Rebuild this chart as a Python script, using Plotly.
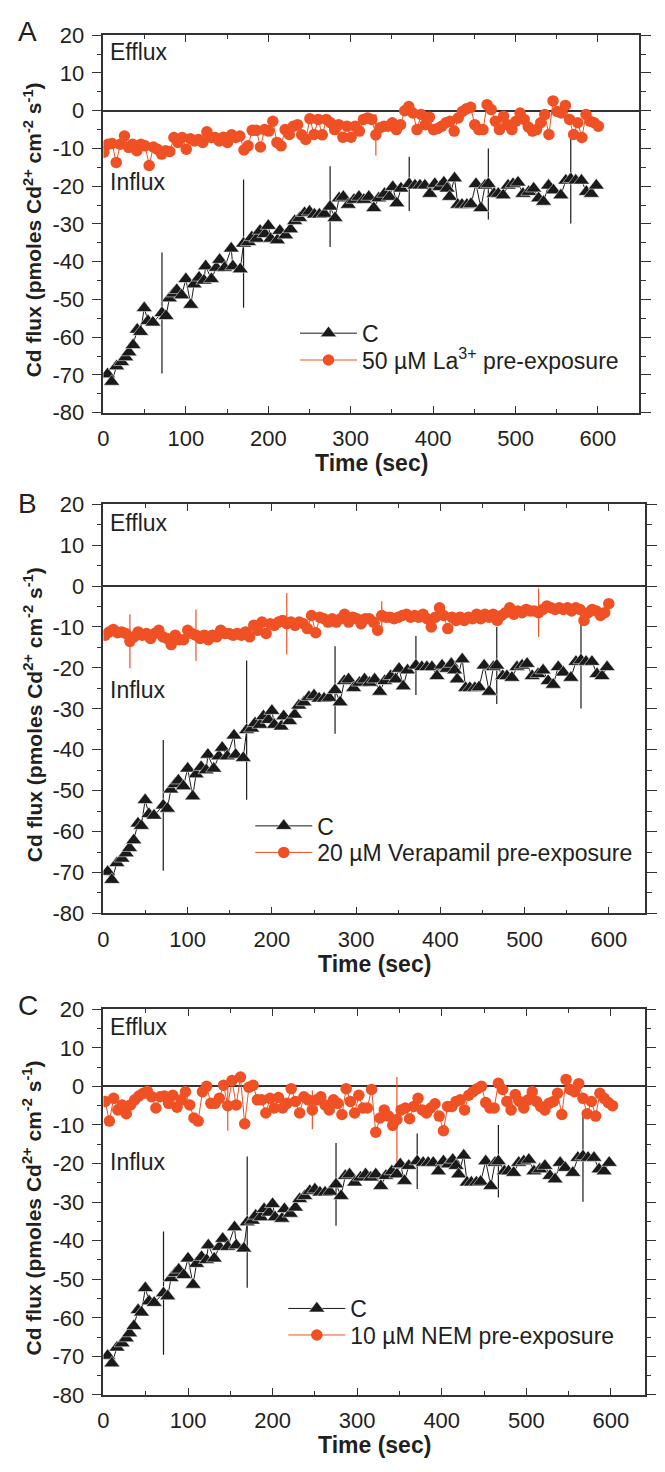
import plotly.graph_objects as go

# ---------------- data ----------------
# Control series "C" (same in all three panels)
time_c = [5, 10, 16, 22, 27, 31, 36, 41, 45, 49.5,
          54, 60, 71, 76, 80, 85, 89, 95, 100, 106,
          110, 116, 122, 124, 131, 137, 141, 147, 155, 157,
          166, 170, 176, 180, 186, 190, 196, 200, 203, 211,
          214, 221, 227, 232, 238, 244, 250, 256, 262, 268,
          275, 281, 286, 291, 297, 304, 310, 316, 322, 328,
          334, 341, 347, 351, 356, 361, 371, 378, 384, 390,
          396, 402, 408, 413, 417, 420, 426, 430, 435, 441,
          446, 452, 458, 463, 467, 474, 479, 485, 491, 497,
          503, 509, 516, 522, 528, 534, 540, 546, 555, 561,
          567, 573, 580, 586, 592, 598]
flux_c = [-69.8, -71.8, -67.7, -66.6, -65.3, -64.0, -62.1, -58.0, -58.6, -52.3,
          -55.7, -56.1, -53.6, -54.4, -49.7, -48.4, -47.5, -48.9, -44.6, -51.4,
          -46.0, -44.2, -45.0, -41.2, -44.6, -41.6, -39.5, -41.6, -36.5, -41.2,
          -42.0, -35.2, -34.8, -33.5, -33.9, -31.8, -32.7, -30.5, -33.9, -34.3,
          -31.8, -33.0, -31.4, -29.2, -28.4, -27.1, -26.7, -27.5, -27.5, -27.3,
          -25.4, -28.4, -23.2, -22.8, -24.9, -23.6, -22.8, -23.6, -22.8, -25.8,
          -23.2, -22.0, -22.8, -20.2, -24.5, -20.6, -19.4, -19.8, -19.8, -19.8,
          -22.0, -19.4, -20.2, -19.0, -20.6, -22.8, -17.9, -24.9, -24.9, -24.9,
          -24.7, -19.4, -25.8, -19.8, -19.4, -22.0, -22.0, -22.4, -19.8, -19.4,
          -19.0, -22.0, -21.5, -20.6, -23.2, -24.1, -19.8, -21.1, -22.4, -18.5,
          -18.1, -18.5, -18.5, -21.5, -22.0, -19.8]
err_c_time = [71, 170, 275, 371, 467, 567]
err_c_value = [16.0, 17.0, 10.7, 7.2, 9.4, 11.8]

# Panel A: 50 uM La3+ pre-exposure
flux_la = [-11.0, -8.9, -8.7, -13.7, -8.9, -6.7, -9.7, -8.9, -10.6, -8.9,
           -9.3, -14.5, -9.6, -10.2, -11.5, -10.6, -10.8, -7.1, -8.4, -7.1,
           -10.2, -7.4, -8.0, -7.6, -8.4, -5.6, -7.1, -7.1, -8.0, -7.0,
           -8.4, -6.4, -7.1, -6.7, -10.4, -9.3, -5.2, -5.2, -9.6, -5.0,
           -5.4, -2.8, -8.4, -9.3, -5.0, -6.3, -4.1, -3.7, -6.4, -7.6,
           -2.1, -6.3, -2.3, -6.4, -2.3, -3.2, -5.0, -3.7, -7.0, -4.1,
           -7.0, -4.1, -5.4, -2.3, -1.9, -2.3, -6.4, -4.5, -4.1, -4.1,
           -3.2, -5.0, -3.7, 0.0, 1.1, -0.6, -5.0, -1.0, -3.7, -1.7,
           -5.0, -4.7, -4.1, -3.2, -2.8, -5.4, -1.9, -0.2, 0.5, 0.9,
           -3.7, -5.0, -5.0, 1.6, 0.3, -2.8, -5.0, -1.5, -3.7, -5.0,
           -2.8, -0.6, -2.3, -4.3, -5.4, -5.0, -3.2, -1.0, -6.3, 2.6,
           -0.2, -0.6, 1.4, -2.3, -6.3, -3.2, -7.1, -1.0, -2.8, -3.2,
           -4.1]
err_la_index = [66, 89]
err_la_value = [5.5, 1.5]

# Panel B: 20 uM Verapamil pre-exposure
flux_vp = [-12.0, -11.2, -10.6, -11.4, -11.2, -11.6, -13.5, -12.4, -11.2, -12.0,
           -11.6, -12.8, -11.6, -10.8, -12.4, -12.8, -14.3, -12.0, -13.1, -13.1,
           -10.8, -11.6, -12.0, -12.8, -12.0, -13.1, -12.0, -12.4, -10.8, -11.6,
           -11.6, -12.0, -11.6, -12.0, -11.2, -12.4, -9.6, -10.8, -8.8, -11.6,
           -9.2, -9.6, -8.8, -8.4, -9.2, -8.8, -9.6, -8.8, -9.2, -10.4,
           -7.2, -11.4, -7.6, -8.0, -8.8, -8.0, -8.8, -8.0, -6.9, -8.8,
           -7.6, -8.0, -9.2, -8.0, -8.0, -8.8, -10.8, -7.2, -7.6, -7.6,
           -8.0, -7.6, -7.2, -6.9, -7.6, -7.2, -7.6, -6.9, -8.0, -10.0,
           -7.6, -5.3, -7.2, -10.4, -7.6, -8.4, -7.6, -8.4, -7.6, -8.0,
           -6.9, -8.0, -6.9, -7.6, -6.9, -8.4, -7.2, -6.5, -5.3, -6.9,
           -6.1, -6.5, -5.7, -6.1, -6.1, -6.5, -5.7, -4.9, -5.3, -5.7,
           -5.3, -5.7, -5.3, -6.1, -5.3, -5.7, -8.4, -6.5, -5.7, -6.1,
           -7.2, -6.5, -4.3]
err_vp_index = [6, 22, 44, 67, 105]
err_vp_value = [6.6, 6.3, 7.5, 3.5, 5.9]

# Panel C: 10 uM NEM pre-exposure
flux_nem = [-3.9, -9.0, -3.1, -6.1, -4.8, -7.1, -4.8, -3.5, -2.5, -1.8,
            -1.3, -2.7, -5.6, -2.7, -2.5, -4.4, -2.3, -5.4, -3.5, -1.4,
            -4.8, -8.2, -9.0, -1.4, 0.0, -4.4, -4.4, -3.1, 0.3, -5.0,
            1.5, -4.8, 2.4, -9.7, -0.2, 0.3, -3.5, -3.5, -6.9, -3.1,
            -5.6, -2.9, -5.6, -4.4, -0.6, -3.9, -6.9, -2.7, -3.5, -6.1,
            -3.5, -2.7, -4.8, -6.1, -3.5, -4.4, -7.3, -0.6, -3.9, -6.9,
            -2.3, -5.6, -5.6, -0.8, -11.9, -8.2, -6.1, -7.7, -10.1, -8.6,
            -6.1, -5.6, -8.4, -5.2, -3.1, -6.1, -6.9, -5.6, -4.5, -7.7,
            -11.5, -5.2, -5.2, -3.9, -3.5, -6.1, -2.3, -1.4, -0.6, 0.0,
            -4.2, -5.6, -5.6, 0.8, -0.8, -3.9, -6.1, -2.1, -3.9, -5.6,
            -3.5, -1.4, -3.9, -5.2, -6.1, -4.4, -3.9, -1.8, -7.3, 1.8,
            -0.8, -1.4, 0.7, -3.1, -7.1, -3.9, -7.7, -1.8, -3.1, -4.2,
            -5.0]
err_nem_index = [29, 49, 69]
err_nem_value = [6.5, 5.0, 11.0]

# sampling times of the treatment series (s)
time_la = [0.5 + 5 * i for i in range(len(flux_la))]
time_vp = [2 + i * 598 / (len(flux_vp) - 1) for i in range(len(flux_vp))]
time_nem = [2 + 5 * i for i in range(len(flux_nem))]

panel_letters = ["A", "B", "C"]
treatment_names = ["50 \u00b5M La<sup>3+</sup> pre-exposure",
                   "20 \u00b5M Verapamil pre-exposure",
                   "10 \u00b5M NEM pre-exposure"]
control_name = "C"
y_tick_values = [20, 10, 0, -10, -20, -30, -40, -50, -60, -70, -80]
y_tick_labels = ["20", "10", "0", "-10", "-20", "-30", "-40", "-50", "-60", "-70", "-80"]
x_tick_values = [0, 100, 200, 300, 400, 500, 600]
x_tick_labels = ["0", "100", "200", "300", "400", "500", "600"]
x_ranges = [[0, 650], [0, 643], [0, 640]]
x_title = "Time (sec)"
y_title = "Cd flux (pmoles Cd<sup>2+</sup> cm<sup>-2</sup> s<sup>-1</sup>)"
efflux_label, influx_label = "Efflux", "Influx"
efflux_value = [15.5, 15.5, 15.5]
influx_value = [-19.0, -25.5, -19.5]

# ---------------- styling / geometry ----------------
# The page body keeps the browser's default 8 px margin, so the figure is
# 16 px smaller than the window and all reference pixel positions shift by 8.
WIN_W, WIN_H, PAD = 665, 1472, 8
W, H = WIN_W - 2 * PAD, WIN_H - 2 * PAD


def px(x):
    return min(max((x - PAD) / W, 0.0), 1.0)


def py(y):
    return min(max(1 - (y - PAD) / H, 0.0), 1.0)


FONT = "Arial, 'Liberation Sans', Helvetica, sans-serif"
INK = "#231F20"
AXIS = "#333333"
ORANGE = "#EF5024"
BLACK = "#1A1A1A"

# plot-area pixel boxes in the reference (left, right, top, bottom)
boxes = [(100, 651, 23.5, 407.5), (100, 657, 500.7, 917.0), (100, 656.7, 1014.5, 1407.0)]
# legend rows (pixel y of C row, treatment row) and x where legend text starts
legend_rows = [(326.7, 354.0, 364), (828.0, 855.0, 318), (1319.0, 1346.0, 352)]
letter_y = [19.5, 500.0, 1011.0]
LEG_ITEM_W = 57

treat_time = [time_la, time_vp, time_nem]
treat_flux = [flux_la, flux_vp, flux_nem]
treat_err = []
for idx, val, n in [(err_la_index, err_la_value, len(flux_la)),
                    (err_vp_index, err_vp_value, len(flux_vp)),
                    (err_nem_index, err_nem_value, len(flux_nem))]:
    e = [0.0] * n
    for i, v in zip(idx, val):
        e[i] = v
    treat_err.append(e)
err_c = [0.0] * len(time_c)
for t, v in zip(err_c_time, err_c_value):
    err_c[time_c.index(t)] = v

fig = go.Figure()
annotations = []
layout = {}

for k in range(3):
    xl, xr, yt, yb = boxes[k]
    xs = "" if k == 0 else str(k + 1)
    xa, ya = "x" + xs, "y" + xs
    lg_c = "legend" if k == 0 else "legend" + str(2 * k + 1)
    lg_t = "legend" + str(2 * k + 2)

    fig.add_trace(go.Scatter(
        x=time_c, y=flux_c, xaxis=xa, yaxis=ya, name=control_name,
        legend=lg_c, mode="lines+markers",
        line=dict(color=BLACK, width=1),
        marker=dict(symbol="triangle-up", size=14, color=BLACK,
                    line=dict(color="white", width=0.5)),
        error_y=dict(type="data", array=err_c, symmetric=True, width=0,
                     thickness=1.2, color=BLACK),
    ))
    fig.add_trace(go.Scatter(
        x=treat_time[k], y=treat_flux[k], xaxis=xa, yaxis=ya,
        name=treatment_names[k], legend=lg_t, mode="lines+markers",
        line=dict(color=ORANGE, width=1),
        marker=dict(symbol="circle", size=11.5, color=ORANGE),
        error_y=dict(type="data", array=treat_err[k], symmetric=True, width=0,
                     thickness=1.2, color=ORANGE),
    ))

    layout["xaxis" + xs] = dict(
        domain=[px(xl), px(xr)], anchor=ya, range=x_ranges[k],
        tickmode="array", tickvals=x_tick_values, ticktext=x_tick_labels,
        ticks="inside", ticklen=7, tickwidth=1.3, tickcolor=AXIS,
        minor=dict(dtick=50, tick0=0, ticks="inside", ticklen=4,
                   tickwidth=1.3, tickcolor=AXIS),
        showline=True, linecolor=AXIS, linewidth=1.5, mirror="ticks",
        showgrid=False, zeroline=False, ticklabelstandoff=5,
        tickfont=dict(family=FONT, size=22, color=INK),
    )
    layout["yaxis" + xs] = dict(
        domain=[py(yb), py(yt)], anchor=xa, range=[-80, 20],
        tickmode="array", tickvals=y_tick_values, ticktext=y_tick_labels,
        ticks="outside", ticklen=10, tickwidth=1.3, tickcolor=AXIS,
        minor=dict(dtick=5, tick0=0, ticks="outside", ticklen=5,
                   tickwidth=1.3, tickcolor=AXIS),
        showline=True, linecolor=AXIS, linewidth=1.5, mirror="ticks",
        showgrid=False, zeroline=True, zerolinecolor=AXIS, zerolinewidth=1.6,
        ticklabelstandoff=3,
        tickfont=dict(family=FONT, size=22, color=INK),
    )

    # legends, one per row
    ry_c, ry_t, tx = legend_rows[k]
    for name, ry in [(lg_c, ry_c), (lg_t, ry_t)]:
        layout[name] = dict(
            x=px(tx - LEG_ITEM_W - 10), y=py(ry), xanchor="left", yanchor="middle",
            xref="paper", yref="paper", bgcolor="rgba(0,0,0,0)",
            borderwidth=0, itemwidth=LEG_ITEM_W,
            font=dict(family=FONT, size=23, color=INK),
        )

    # text labels
    annotations.append(dict(text=panel_letters[k], x=px(22), y=py(letter_y[k]),
                            xref="paper", yref="paper", showarrow=False,
                            xanchor="center", yanchor="middle",
                            font=dict(family=FONT, size=28, color=INK)))
    annotations.append(dict(text=efflux_label, x=5, y=efflux_value[k], xref=xa, yref=ya,
                            showarrow=False, xanchor="left", yanchor="middle",
                            font=dict(family=FONT, size=23, color=INK)))
    annotations.append(dict(text=influx_label, x=5, y=influx_value[k], xref=xa, yref=ya,
                            showarrow=False, xanchor="left", yanchor="middle",
                            font=dict(family=FONT, size=23, color=INK)))
    annotations.append(dict(text="<b>" + x_title + "</b>", x=px((xl + xr) / 2),
                            y=py(yb + 51), xref="paper", yref="paper",
                            showarrow=False, xanchor="center", yanchor="middle",
                            font=dict(family=FONT, size=23, color=INK)))
    annotations.append(dict(text="<b>" + y_title + "</b>", x=px(27),
                            y=py((yt + yb) / 2 + 6), xref="paper", yref="paper",
                            showarrow=False, xanchor="center", yanchor="middle",
                            textangle=-90,
                            font=dict(family=FONT, size=21, color=INK)))

fig.update_layout(
    width=W, height=H, margin=dict(l=0, r=0, t=0, b=0),
    paper_bgcolor="white", plot_bgcolor="white",
    showlegend=True, annotations=annotations, **layout,
)

fig.write_html("out.html", config={"displayModeBar": False})
